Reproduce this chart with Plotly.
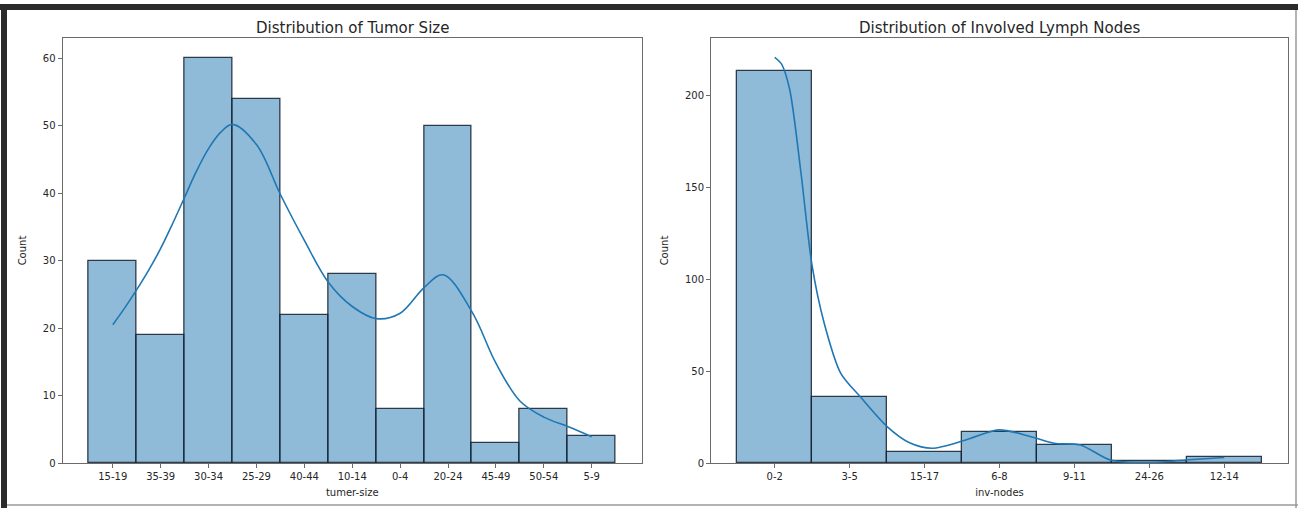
import plotly.graph_objects as go

# ---------------- data ----------------
tumor_sizes = ["15-19", "35-39", "30-34", "25-29", "40-44", "10-14", "0-4",
               "20-24", "45-49", "50-54", "5-9"]
tumor_counts = [30, 19, 60, 54, 22, 28, 8, 50, 3, 8, 4]

# KDE curve (x in category-index units, y in counts)
tumor_kde_x = [0.0, 0.25, 0.5, 0.75, 1.0, 1.25, 1.5, 1.75, 2.0, 2.25, 2.5, 3.0, 3.5, 4.0, 4.5, 5.0,
               5.5, 6.0, 6.5, 6.9, 7.5, 8.0, 8.5, 9.0, 9.5, 10.0]
tumor_kde_y = [20.5, 23.0, 25.7, 28.6, 31.8, 35.5, 39.4, 43.3, 46.6, 49.0, 50.2, 47.2, 39.8,
               33.0, 26.8, 23.2, 21.4, 22.2, 26.0, 27.9, 22.4, 14.8, 9.2, 6.8, 5.4, 3.9]

inv_nodes = ["0-2", "3-5", "15-17", "6-8", "9-11", "24-26", "12-14"]
node_counts = [213, 36, 6, 17, 10, 1, 3]

node_kde_x = [0.0, 0.09, 0.2, 0.35, 0.5, 0.66, 0.88, 1.14, 1.5, 1.8, 2.1,
              2.55, 2.99, 3.42, 3.73, 4.08, 4.48, 4.96, 5.48, 6.0]
node_kde_y = [220.5, 216.9, 203.0, 157.9, 107.0, 76.1, 48.9, 36.1, 19.8, 11.0, 8.0,
              12.5, 18.0, 14.3, 10.7, 9.8, 1.6, 0.2, 1.6, 3.0]

# ---------------- style ----------------
W, H = 1298, 508
ML, MR, MT, MB = 62, 10, 38, 45
PW, PH = W - ML - MR, H - MT - MB

def px_x(p):
    return (p - ML) / PW

def px_y(p):
    return (H - MB - p) / PH

BAR_FILL = "rgba(31,119,180,0.5)"
BAR_EDGE = "rgba(20,30,45,0.85)"
KDE_COLOR = "#1f77b4"
FONT = "DejaVu Sans"
TXT = "#262626"

fig = go.Figure()

fig.add_trace(go.Bar(x=list(range(len(tumor_sizes))), y=tumor_counts, width=1.0,
                     marker=dict(color=BAR_FILL, line=dict(color=BAR_EDGE, width=1.3)),
                     xaxis="x", yaxis="y", showlegend=False))
fig.add_trace(go.Scatter(x=tumor_kde_x, y=tumor_kde_y, mode="lines",
                         line=dict(color=KDE_COLOR, width=1.6, shape="spline", smoothing=1.0),
                         xaxis="x", yaxis="y", showlegend=False))

fig.add_trace(go.Bar(x=list(range(len(inv_nodes))), y=node_counts, width=1.0,
                     marker=dict(color=BAR_FILL, line=dict(color=BAR_EDGE, width=1.3)),
                     xaxis="x2", yaxis="y2", showlegend=False))
fig.add_trace(go.Scatter(x=node_kde_x, y=node_kde_y, mode="lines",
                         line=dict(color=KDE_COLOR, width=1.6, shape="spline", smoothing=0.8),
                         xaxis="x2", yaxis="y2", showlegend=False))

axis_common = dict(showline=True, linecolor="#6b6b6b", linewidth=1, mirror=True,
                   showgrid=False, zeroline=False, ticks="outside", ticklen=4,
                   tickcolor="#6b6b6b", tickfont=dict(family=FONT, size=10, color=TXT))

fig.update_layout(
    width=W, height=H,
    margin=dict(l=ML, r=MR, t=MT, b=MB, autoexpand=False),
    paper_bgcolor="white", plot_bgcolor="white",
    bargap=0,
    font=dict(family=FONT, color=TXT),
    xaxis=dict(domain=[px_x(62.5), px_x(642)], range=[-1.05, 11.05],
               tickvals=list(range(len(tumor_sizes))), ticktext=tumor_sizes,
               title=dict(text="tumer-size", font=dict(family=FONT, size=10, color=TXT), standoff=7),
               anchor="y", **axis_common),
    yaxis=dict(domain=[0, 1], range=[0, 63], tickvals=[0, 10, 20, 30, 40, 50, 60],
               title=dict(text="Count", font=dict(family=FONT, size=10, color=TXT), standoff=14),
               anchor="x", **axis_common),
    xaxis2=dict(domain=[px_x(711), px_x(1288)], range=[-0.85, 6.85],
                tickvals=list(range(len(inv_nodes))), ticktext=inv_nodes,
                title=dict(text="inv-nodes", font=dict(family=FONT, size=10, color=TXT), standoff=7),
                anchor="y2", **axis_common),
    yaxis2=dict(domain=[0, 1], range=[0, 231], tickvals=[0, 50, 100, 150, 200],
                title=dict(text="Count", font=dict(family=FONT, size=10, color=TXT), standoff=14),
                anchor="x2", **axis_common),
    annotations=[
        dict(text="Distribution of Tumor Size", xref="paper", yref="paper",
             x=(px_x(62.5) + px_x(642)) / 2, y=px_y(28), xanchor="center", yanchor="middle",
             showarrow=False, font=dict(family=FONT, size=15, color=TXT)),
        dict(text="Distribution of Involved Lymph Nodes", xref="paper", yref="paper",
             x=(px_x(711) + px_x(1288)) / 2, y=px_y(28), xanchor="center", yanchor="middle",
             showarrow=False, font=dict(family=FONT, size=15, color=TXT)),
    ],
    shapes=[
        # dark frame of the screenshot (top and left)
        dict(type="rect", xref="paper", yref="paper", x0=px_x(0), x1=px_x(W),
             y0=px_y(10), y1=px_y(4), fillcolor="#2b2b2b", line=dict(width=0), layer="above"),
        dict(type="rect", xref="paper", yref="paper", x0=px_x(1), x1=px_x(7),
             y0=px_y(H), y1=px_y(4), fillcolor="#2b2b2b", line=dict(width=0), layer="above"),
        # light outline at right and bottom
        dict(type="line", xref="paper", yref="paper", x0=px_x(1296), x1=px_x(1296),
             y0=px_y(H), y1=px_y(10), line=dict(color="#9a9a9a", width=1.5)),
        dict(type="line", xref="paper", yref="paper", x0=px_x(7), x1=px_x(W),
             y0=px_y(505), y1=px_y(505), line=dict(color="#9a9a9a", width=1.5)),
    ],
)

fig.write_html("out.html", config={"displayModeBar": False},
               post_script="document.body.style.margin='0px';document.body.style.overflow='hidden';")
